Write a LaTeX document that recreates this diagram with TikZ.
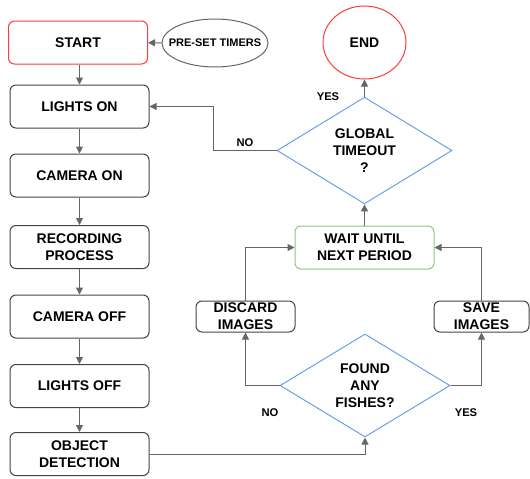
\documentclass[tikz,border=0pt]{standalone}
\usepackage{fontspec}
\setmainfont{Liberation Sans}
\usetikzlibrary{shapes.geometric,arrows.meta}
\definecolor{boxc}{HTML}{434343}
\definecolor{arrc}{HTML}{666666}
\definecolor{redc}{HTML}{FF3B3B}
\definecolor{bluec}{HTML}{6D9EEB}
\definecolor{greenc}{HTML}{93C47D}
\begin{document}
\begin{tikzpicture}[x=1pt,y=-1pt,
  txt/.style={font=\fontsize{14}{17}\selectfont\bfseries, align=center},
  box/.style={txt, draw=boxc, line width=1pt, rounded corners=6pt, minimum width=139pt, minimum height=43pt, inner sep=0pt},
  smallbox/.style={box, minimum width=99pt, minimum height=31pt},
  dia/.style={txt, draw=bluec, line width=1pt, diamond, inner sep=0pt},
  arr/.style={draw=arrc, line width=1pt, -{Triangle[length=7pt,width=7pt]}, arrc},
  lbl/.style={font=\fontsize{11.2}{13}\selectfont\bfseries}]
\useasboundingbox (0,0) rectangle (530,479);
\node[box, draw=redc] (start) at (78,42.5) {START};
\node[draw=arrc, line width=1pt, ellipse, minimum width=106pt, minimum height=48pt, inner sep=0pt] (timers) at (215,43) {};
\node[font=\fontsize{11}{13}\selectfont\bfseries, inner sep=0pt] (timerstxt) at (timers) {PRE-SET TIMERS};
\node[box] (lon) at (79.5,106.5) {LIGHTS ON};
\node[box] (con) at (79.5,175.5) {CAMERA ON};
\node[box] (rec) at (79.5,247) {RECORDING\\PROCESS};
\node[box] (coff) at (79.5,316.5) {CAMERA OFF};
\node[box] (loff) at (79.5,386) {LIGHTS OFF};
\node[box] (obj) at (79.5,454) {OBJECT\\DETECTION};
\node[txt, draw=redc, line width=1pt, ellipse, minimum width=83pt, minimum height=73pt, inner sep=0pt] (endn) at (364.5,42.5) {END};
\node[dia, minimum width=175pt, minimum height=103pt] (gt) at (364.5,150.5) {GLOBAL\\TIMEOUT\\?};
\node[box, draw=greenc, minimum height=43pt] (wait) at (364.5,247.5) {WAIT UNTIL\\NEXT PERIOD};
\node[smallbox] (disc) at (245.5,316.5) {DISCARD\\IMAGES};
\node[smallbox, minimum width=95pt] (save) at (481.5,316.5) {SAVE\\IMAGES};
\node[dia, minimum width=170pt, minimum height=103pt] (found) at (365,385.5) {FOUND\\ANY\\FISHES?};
\coordinate (c1) at (213,150.5);
\node[lbl] (yes1) at (328,97) {YES};
\node[lbl] (no1) at (245,143) {NO};
\node[lbl] (no2) at (270,413) {NO};
\node[lbl] (yes2) at (466,413) {YES};
\draw[arr] (timers) -- (start);
\draw[arr] (start.south -| lon) -- (lon.north);
\draw[arr] (lon) -- (con);
\draw[arr] (con) -- (rec);
\draw[arr] (rec) -- (coff);
\draw[arr] (coff) -- (loff);
\draw[arr] (loff) -- (obj);
\draw[arr] (obj.east) -| (found.south);
\draw[arr] (found.west) -| (disc.south);
\draw[arr] (found.east) -| (save.south);
\draw[arr] (disc.north) |- (wait.west);
\draw[arr] (save.north) |- (wait.east);
\draw[arr] (wait) -- (gt);
\draw[arr] (gt) -- (endn);
\draw[arr] (gt.west) -- (c1) |- (lon.east);
\end{tikzpicture}
\end{document}
